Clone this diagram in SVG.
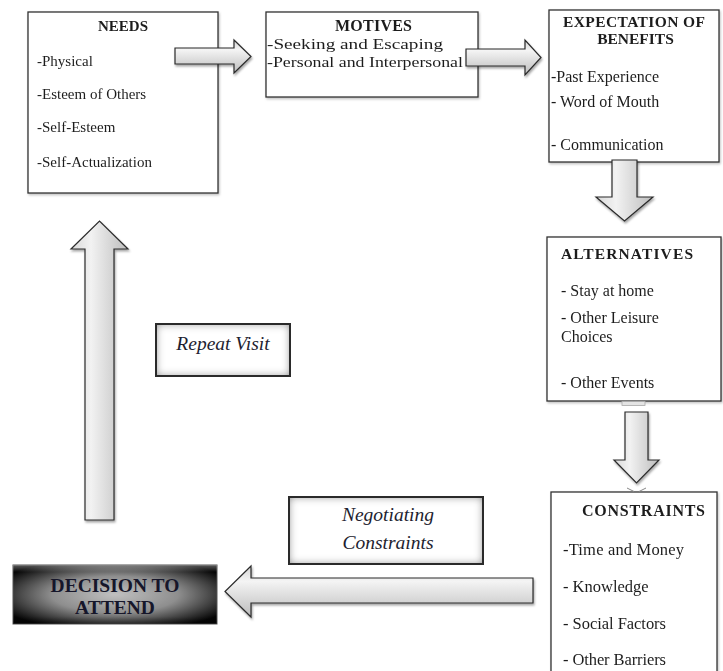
<svg xmlns="http://www.w3.org/2000/svg" width="723" height="671" viewBox="0 0 723 671">
<style>
.box{fill:#fff;stroke:#333;stroke-width:1.3}
.t{font-family:"Liberation Serif","Times New Roman",serif;fill:#1e1e1e}
.b{font-weight:bold}
.c{text-anchor:middle}
.it{font-style:italic;font-size:19.5px;text-anchor:middle;fill:#1e1e30}
.n15{font-size:15px}
.n16{font-size:16px}
.arr{stroke:#2b2b2b;stroke-width:1.2;stroke-linejoin:miter;filter:url(#sh)}
.h{fill:url(#gh)}
.v{fill:url(#gv)}
.lbl{fill:#fff;filter:url(#ig)}
.lbf{fill:none;stroke:#2a2a2a;stroke-width:2}
</style>
<defs>
<filter id="sh" x="-20%" y="-20%" width="140%" height="140%">
<feDropShadow dx="1" dy="2" stdDeviation="1.3" flood-color="#000" flood-opacity="0.35"/>
</filter>
<filter id="bs" x="-10%" y="-10%" width="120%" height="120%">
<feDropShadow dx="1" dy="1.5" stdDeviation="1" flood-color="#000" flood-opacity="0.25"/>
</filter>
<filter id="ig" x="-10%" y="-10%" width="120%" height="120%">
<feFlood flood-color="#555" result="f"/>
<feComposite in="f" in2="SourceAlpha" operator="out" result="o"/>
<feGaussianBlur in="o" stdDeviation="4" result="bl"/>
<feComposite in="bl" in2="SourceAlpha" operator="in" result="inner"/>
<feMerge><feMergeNode in="SourceGraphic"/><feMergeNode in="inner"/></feMerge>
</filter>
<linearGradient id="gh" x1="0" y1="0" x2="0" y2="1">
<stop offset="0" stop-color="#d4d4d4"/>
<stop offset="0.3" stop-color="#f4f4f4"/>
<stop offset="1" stop-color="#bcbcbc"/>
</linearGradient>
<linearGradient id="gv" x1="0" y1="0" x2="1" y2="0">
<stop offset="0" stop-color="#d8d8d8"/>
<stop offset="0.35" stop-color="#f2f2f2"/>
<stop offset="1" stop-color="#bdbdbd"/>
</linearGradient>
<radialGradient id="gd" cx="50%" cy="50%" r="62%">
<stop offset="0" stop-color="#c0c0c0"/>
<stop offset="0.5" stop-color="#8e8e8e"/>
<stop offset="1" stop-color="#050505"/>
</radialGradient>
<linearGradient id="gdt" x1="0" y1="0" x2="0" y2="1">
<stop offset="0" stop-color="#fff" stop-opacity="0.35"/>
<stop offset="0.12" stop-color="#fff" stop-opacity="0"/>
<stop offset="0.88" stop-color="#000" stop-opacity="0"/>
<stop offset="1" stop-color="#000" stop-opacity="0.3"/>
</linearGradient>
</defs>

<g id="needs" filter="url(#bs)">
<rect class="box" x="28" y="12" width="190" height="181"/>
<text class="t b c n15" x="123" y="31">NEEDS</text>
<text class="t n15" x="37" y="66">-Physical</text>
<text class="t n15" x="37" y="99">-Esteem of Others</text>
<text class="t n15" x="37" y="132">-Self-Esteem</text>
<text class="t n15" x="37" y="167">-Self-Actualization</text>
</g>

<g id="motives" filter="url(#bs)">
<rect class="box" x="266" y="12" width="212" height="85"/>
<text class="t b c" font-size="16" x="373.5" y="31" textLength="77">MOTIVES</text>
<text class="t" font-size="15.5" x="267" y="49" textLength="176" lengthAdjust="spacingAndGlyphs">-Seeking and Escaping</text>
<text class="t" font-size="15.5" x="267" y="67" textLength="196" lengthAdjust="spacingAndGlyphs">-Personal and Interpersonal</text>
</g>

<g id="expectation" filter="url(#bs)">
<rect class="box" x="549" y="10" width="170" height="152"/>
<text class="t b c" font-size="15.5" x="634" y="27" textLength="142">EXPECTATION OF</text>
<text class="t b c" font-size="15.5" x="635.5" y="44">BENEFITS</text>
<text class="t n16" x="551" y="82" textLength="108">-Past Experience</text>
<text class="t n16" x="551" y="107">- Word of Mouth</text>
<text class="t n16" x="551" y="150">- Communication</text>
</g>

<g id="alternatives" filter="url(#bs)">
<rect class="box" x="547" y="237" width="174" height="164"/>
<text class="t b" font-size="15.5" x="561" y="259" textLength="132">ALTERNATIVES</text>
<text class="t n16" x="561" y="296">- Stay at home</text>
<text class="t n16" x="561" y="323">- Other Leisure</text>
<text class="t n16" x="561" y="342">Choices</text>
<text class="t n16" x="561" y="388">- Other Events</text>
</g>

<g id="constraints" filter="url(#bs)">
<rect class="box" x="551" y="492" width="166" height="200"/>
<text class="t b c" font-size="16" x="643.5" y="516" textLength="123">CONSTRAINTS</text>
<text class="t" font-size="16.5" x="563" y="555" textLength="121">-Time and Money</text>
<text class="t" font-size="16.5" x="563" y="592">- Knowledge</text>
<text class="t" font-size="16.5" x="563" y="629" textLength="103">- Social Factors</text>
<text class="t" font-size="16.5" x="563" y="665" textLength="103">- Other Barriers</text>
</g>

<g id="decision">
<rect x="13" y="565" width="204" height="59" fill="url(#gd)" stroke="#555" stroke-width="1"/>
<rect x="13" y="565" width="204" height="59" fill="url(#gdt)"/>
<text class="t b c" font-size="19.5" x="115" y="592" style="fill:#16162a">DECISION TO</text>
<text class="t b c" font-size="19.5" x="115" y="614" style="fill:#16162a">ATTEND</text>
</g>

<g id="repeat-visit">
<rect class="lbl" x="156" y="324" width="134" height="52"/>
<rect class="lbf" x="156" y="324" width="134" height="52"/>
<text class="t it" x="223" y="350">Repeat Visit</text>
</g>

<g id="negotiating-constraints">
<rect class="lbl" x="289" y="497" width="194" height="67"/>
<rect class="lbf" x="289" y="497" width="194" height="67"/>
<text class="t it" x="388" y="521">Negotiating</text>
<text class="t it" x="388" y="549">Constraints</text>
</g>

<g id="connectors">
<path class="arr h" d="M175,48 H234 V40 L251,56.5 L234,73 V64 H175 Z"/>
<path class="arr h" d="M466,49 H525 V40 L541,57.5 L525,75 V66 H466 Z"/>
<path class="arr v" d="M612,160 H637 V197 H653 L624.5,221 L596,197 H612 Z"/>
<rect x="622" y="401.5" width="23" height="4" fill="#e4e4e4" stroke="#aaa" stroke-width="0.8"/>
<path class="arr v" d="M625,412 H648 V460 H659 L636.5,483 L614,460 H625 Z"/>
<path d="M627,488 L634,491.5 M646,488 L639,491.5" stroke="#888" stroke-width="1" fill="none"/>
<path class="arr h" d="M533,578 H251 V566 L225,591.5 L251,617 V603 H533 Z"/>
<path class="arr v" d="M85,520 V249 H71 L99.5,221 L128,249 H114 V520 Z"/>
</g>
</svg>
